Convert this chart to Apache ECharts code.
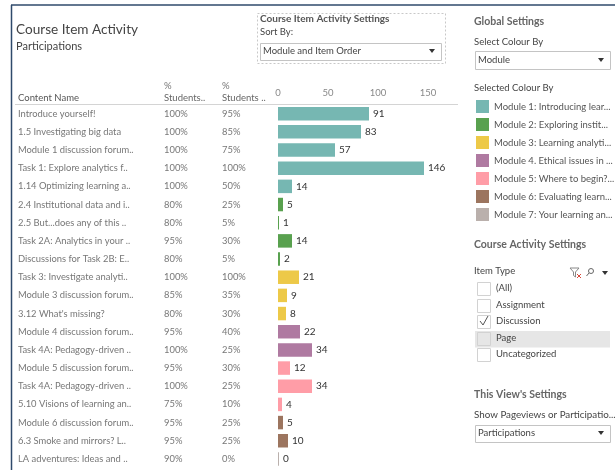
<!DOCTYPE html>
<html>
<head>
<meta charset="utf-8">
<style>html,body{margin:0;padding:0;background:#fff}#main{width:615px;height:470px}</style>
<script src="https://cdn.jsdelivr.net/npm/echarts@6/dist/echarts.min.js"></script>
</head>
<body>
<div id="main"></div>
<script>
// 表格数据
var names = ['Introduce yourself!','1.5 Investigating big data','Module 1 discussion forum..','Task 1: Explore analytics f..','1.14 Optimizing learning a..','2.4 Institutional data and i..','2.5 But...does any of this ..','Task 2A: Analytics in your ..','Discussions for Task 2B: E..','Task 3: Investigate analyti..','Module 3 discussion forum..',"3.12 What's missing?",'Module 4 discussion forum..','Task 4A: Pedagogy-driven ..','Module 5 discussion forum..','Task 4A: Pedagogy-driven ..','5.10 Visions of learning an..','Module 6 discussion forum..','6.3 Smoke and mirrors? L..','LA adventures: Ideas and ..'];
var pctA = ['100%','100%','100%','100%','100%','80%','80%','95%','80%','100%','85%','80%','95%','100%','95%','100%','75%','95%','95%','90%'];
var pctB = ['95%','85%','75%','100%','50%','25%','5%','30%','5%','100%','35%','30%','40%','25%','30%','25%','10%','25%','25%','0%'];
var values = [91,83,57,146,14,5,1,14,2,21,9,8,22,34,12,34,4,5,10,0];
var moduleOf = [0,0,0,0,0,1,1,1,1,2,2,2,3,3,4,4,4,5,5,6];
var modules = ['Module 1: Introducing lear...','Module 2: Exploring instit...','Module 3: Learning analyti...','Module 4. Ethical issues in ...','Module 5: Where to begin?...','Module 6: Evaluating learn...','Module 7: Your learning an...'];
var colors = ['#76b7b2','#59a14f','#edc948','#af7aa1','#ff9da7','#9c755f','#bab0ac'];
var itemTypes = ['(All)','Assignment','Discussion','Page','Uncategorized'];

var FONT = 'Lato';

// 每个模块一个系列，图例直接用系列名
var series = modules.map(function(name, m) {
    return {
        name: name,
        type: 'bar',
        stack: 'total',
        barWidth: 13.5,
        barMinHeight: 1,
        itemStyle: { color: colors[m] },
        label: { show: true, position: 'right', distance: 4, color: '#333', fontSize: 10, fontFamily: FONT },
        data: values.map(function(v, i) { return moduleOf[i] == m ? v : null; })
    };
});

function txt(x, y, s, opt) {
    opt = opt || {};
    return {
        type: 'text', x: x, y: y, silent: true,
        style: {
            text: s, fill: opt.color || '#555', fontSize: opt.size || 9.5,
            fontFamily: FONT, fontWeight: opt.bold ? 700 : 400, verticalAlign: 'middle'
        }
    };
}
function box(x, y, w, h, stroke, fill) {
    return { type: 'rect', silent: true, shape: { x: x + 0.5, y: y + 0.5, width: w, height: h }, style: { fill: fill || '#fff', stroke: stroke, lineWidth: 1 } };
}
function arrow(x, y) {
    return { type: 'polygon', silent: true, shape: { points: [[x - 3, y - 2], [x + 3, y - 2], [x, y + 2]] }, style: { fill: '#333' } };
}
function line(x1, y1, x2, y2, color, width) {
    return { type: 'line', silent: true, shape: { x1: x1, y1: y1, x2: x2, y2: y2 }, style: { stroke: color, lineWidth: width || 1 } };
}

var g = [];
// 外框
g.push(line(11, 5, 615, 5, '#2f4a6b', 1.5));
g.push(line(11.5, 5, 11.5, 470, '#2f4a6b', 1.5));
// 表头
g.push(txt(164, 86, '%', { color: '#777' }), txt(164, 98, 'Students..', { color: '#666' }));
g.push(txt(222, 86, '%', { color: '#777' }), txt(222, 98, 'Students ..', { color: '#666' }));
g.push(txt(18, 98, 'Content Name', { color: '#555' }));
g.push(line(15, 104.5, 458, 104.5, '#d4d4d4'));
// 排序设置
g.push({ type: 'rect', silent: true, shape: { x: 257.5, y: 13.5, width: 188, height: 50 }, style: { fill: 'none', stroke: '#c8c8c8', lineDash: [2, 2] } });
g.push(txt(260, 19, 'Course Item Activity Settings', { bold: true, size: 10 }));
g.push(txt(260, 32, 'Sort By:', { color: '#444' }));
g.push(box(260, 43, 181, 17, '#c4c4c4'));
g.push(txt(263, 50.5, 'Module and Item Order', { color: '#444' }));
g.push(arrow(432, 51));
// 右侧 Global Settings
g.push(txt(474, 21.5, 'Global Settings', { bold: true, color: '#666', size: 10.5 }));
g.push(txt(474, 42, 'Select Colour By', { color: '#444' }));
g.push(box(475, 51, 135, 18, '#c4c4c4'));
g.push(txt(478, 59.5, 'Module', { color: '#444' }));
g.push(arrow(601, 60));
g.push(txt(474, 88, 'Selected Colour By', { color: '#444' }));
// Course Activity Settings
g.push(txt(474, 245, 'Course Activity Settings', { bold: true, color: '#666', size: 10.5 }));
g.push(txt(474, 271, 'Item Type', { color: '#444' }));
g.push({ type: 'polygon', silent: true, shape: { points: [[570, 268], [579, 268], [575.5, 272], [575.5, 277], [573.5, 275.5], [573.5, 272]] }, style: { fill: '#fff', stroke: '#888' } });
g.push(line(577, 274, 581, 278, '#d9483b'), line(581, 274, 577, 278, '#d9483b'));
g.push({ type: 'circle', silent: true, shape: { cx: 591, cy: 271, r: 2.5 }, style: { fill: 'none', stroke: '#666' } });
g.push(line(589, 273, 586.5, 276, '#666'));
g.push(arrow(605, 273));
g.push({ type: 'rect', silent: true, shape: { x: 475, y: 331, width: 135, height: 16.5 }, style: { fill: '#e6e6e6' } });
itemTypes.forEach(function(t, i) {
    var cy = 288 + i * 16.5;
    g.push(box(477, Math.round(cy) - 6, 13, 13, '#d2d2d2', i == 3 ? '#e6e6e6' : '#fff'));
    g.push(txt(496, cy, t, { color: '#444' }));
});
g.push({ type: 'polyline', silent: true, shape: { points: [[480, 321], [483, 325], [488, 316]] }, style: { fill: 'none', stroke: '#555', lineWidth: 1 } });
// This View's Settings
g.push(txt(474, 395, "This View's Settings", { bold: true, color: '#666', size: 10.5 }));
g.push(txt(474, 415, 'Show Pageviews or Participatio...', { color: '#444', size: 9.8 }));
g.push(box(475, 425, 135, 17, '#c4c4c4'));
g.push(txt(478, 432.5, 'Participations', { color: '#444' }));
g.push(arrow(601, 433));

function textAxis(data, margin) {
    return {
        type: 'category', inverse: true, data: data, position: 'left',
        axisLine: { show: false }, axisTick: { show: false },
        axisLabel: { interval: 0, align: 'left', margin: margin, color: '#777', fontSize: 9.4, fontFamily: FONT }
    };
}

var option = {
    animation: false,
    backgroundColor: '#fff',
    title: {
        text: 'Course Item Activity', subtext: 'Participations',
        left: 16, top: 23, itemGap: 4, padding: 0,
        textStyle: { color: '#444', fontSize: 13.6, fontWeight: 400, fontFamily: FONT },
        subtextStyle: { color: '#444', fontSize: 11, fontFamily: FONT }
    },
    grid: { left: 278, top: 104.6, width: 150, height: 363.4 },
    xAxis: {
        type: 'value', position: 'top', min: 0, max: 150, interval: 50,
        axisLine: { show: false }, axisTick: { show: false }, splitLine: { show: false },
        axisLabel: { margin: 7, color: '#888', fontSize: 9.5, fontFamily: FONT }
    },
    yAxis: [textAxis(names, 260), textAxis(pctA, 114), textAxis(pctB, 56)],
    legend: {
        orient: 'vertical', left: 476, top: 100, itemWidth: 13, itemHeight: 13, itemGap: 5,
        icon: 'rect', selectedMode: false, padding: 0,
        textStyle: { color: '#555', fontSize: 9.5, fontFamily: FONT }
    },
    series: series,
    graphic: { elements: g }
};

var chart = echarts.init(document.getElementById('main'), null, { renderer: 'canvas' });
chart.setOption(option);
</script>
</body>
</html>
